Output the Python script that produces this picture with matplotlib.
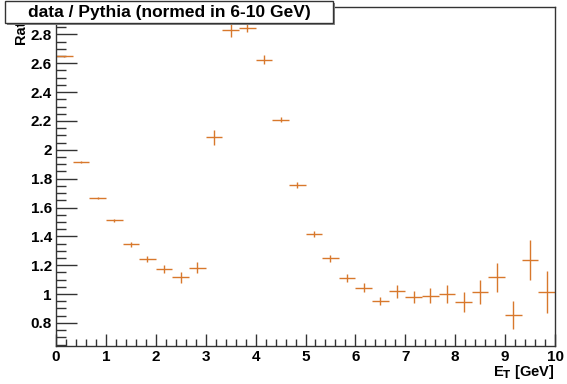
import numpy as np
import matplotlib
matplotlib.use("Agg")
import matplotlib.pyplot as plt
from matplotlib.patches import Rectangle
from matplotlib.ticker import MultipleLocator

plt.rcParams['font.family'] = ['Liberation Sans', 'DejaVu Sans']
plt.rcParams['font.weight'] = 'bold'

# bin centres (30 bins of 1/3 GeV) and the ratio values
et_centres = (np.arange(30) + 0.5) / 3.0
bin_halfwidth = 1.0 / 6.0
ratio = [2.647, 1.916, 1.666, 1.51, 1.344, 1.242, 1.173, 1.115, 1.184, 2.087,
         2.828, 2.846, 2.626, 2.21, 1.756, 1.418, 1.249, 1.112, 1.045, 0.953,
         1.02, 0.978, 0.99, 1.0, 0.944, 1.017, 1.117, 0.853, 1.237, 1.017]
ratio_err = [0.004, 0.005, 0.007, 0.01, 0.015, 0.02, 0.03, 0.035, 0.04, 0.052,
             0.046, 0.03, 0.032, 0.02, 0.02, 0.02, 0.025, 0.025, 0.03, 0.03,
             0.046, 0.04, 0.052, 0.061, 0.07, 0.083, 0.1, 0.098, 0.14, 0.145]

orange = '#d8782c'
frame = '#333333'

fig = plt.figure(figsize=(5.67, 3.84), dpi=100)
ax = fig.add_axes([56 / 567, 1 - 346 / 384, 499 / 567, 339 / 384])

ax.errorbar(et_centres, ratio, xerr=bin_halfwidth, yerr=ratio_err,
            fmt='none', ecolor=orange, elinewidth=1.0, capsize=0)

ax.set_xlim(0, 10)
ax.set_ylim(0.64, 2.99)

ax.xaxis.set_major_locator(MultipleLocator(1))
ax.xaxis.set_minor_locator(MultipleLocator(0.2))
ax.yaxis.set_major_locator(MultipleLocator(0.2))
ax.yaxis.set_minor_locator(MultipleLocator(0.05))
ax.yaxis.set_major_formatter(plt.FuncFormatter(lambda v, p: f'{v:g}'))

ax.tick_params(axis='both', which='both', direction='in', color=frame,
               top=False, right=False, labelsize=11)
ax.tick_params(axis='x', which='major', length=9, width=1, pad=3)
ax.tick_params(axis='x', which='minor', length=5, width=1)
ax.tick_params(axis='y', which='major', length=15, width=1, pad=3)
ax.tick_params(axis='y', which='minor', length=7, width=1)
for s in ax.spines.values():
    s.set_color(frame)
    s.set_linewidth(1.0)

# axis titles, ROOT style (right / top aligned)
fig.text(555 / 567, 1 - 381 / 384, r'E$_\mathbf{T}$ [GeV]', ha='right', va='bottom',
         fontsize=10.5, weight='bold')
fig.text(21 / 567, 1 - 8 / 384, 'Ratio', rotation=90, ha='center', va='top',
         fontsize=10.5, weight='bold')

# title box with shadow
fig.patches.append(Rectangle((7 / 567, 1 - 25 / 384), 328 / 567, 22 / 384,
                             transform=fig.transFigure, facecolor='#888888',
                             edgecolor='none', zorder=4))
fig.patches.append(Rectangle((5 / 567, 1 - 23 / 384), 328 / 567, 22 / 384,
                             transform=fig.transFigure, facecolor='white',
                             edgecolor=frame, linewidth=1.0, zorder=5))
fig.text(169 / 567, 1 - 12 / 384, 'data / Pythia (normed in 6-10 GeV)',
         ha='center', va='center', fontsize=12.5, weight='bold', zorder=6)

fig.savefig('out.png', dpi=100)
